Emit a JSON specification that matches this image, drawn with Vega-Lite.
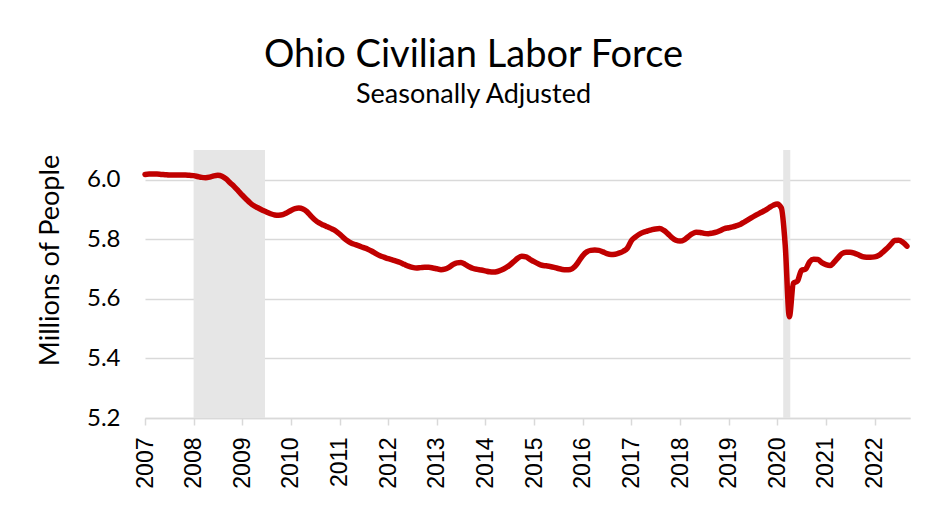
{
  "$schema": "https://vega.github.io/schema/vega-lite/v6.json",
  "width": 765,
  "height": 268,
  "autosize": {"type": "none"},
  "padding": {"left": 145, "top": 150, "right": 27, "bottom": 88},
  "background": "#ffffff",
  "title": {
    "text": "Ohio Civilian Labor Force",
    "subtitle": "Seasonally Adjusted",
    "font": "Lato",
    "fontSize": 38,
    "fontWeight": "normal",
    "color": "#000000",
    "subtitleFont": "Lato",
    "subtitleFontSize": 27,
    "subtitleColor": "#000000",
    "subtitlePadding": 7,
    "anchor": "middle",
    "dx": -54,
    "offset": 42
  },
  "config": {
    "view": {"stroke": null},
    "axis": {"titleFontWeight": "normal"},
    "axisX": {"labelFontSize": 23, "labelFont": "Liberation Sans"}
  },
  "datasets": {
    "recessions": [
      {"start": "2008-01-01", "end": "2009-06-20"},
      {"start": "2020-02-15", "end": "2020-04-08"}
    ],
    "laborforce": [
      {"date": "2007-01-01", "v": 6.018}, {"date": "2007-02-01", "v": 6.019}, {"date": "2007-03-01", "v": 6.019}, {"date": "2007-04-01", "v": 6.019},
      {"date": "2007-05-01", "v": 6.018}, {"date": "2007-06-01", "v": 6.017}, {"date": "2007-07-01", "v": 6.016}, {"date": "2007-08-01", "v": 6.016},
      {"date": "2007-09-01", "v": 6.016}, {"date": "2007-10-01", "v": 6.016}, {"date": "2007-11-01", "v": 6.016}, {"date": "2007-12-01", "v": 6.015},
      {"date": "2008-01-01", "v": 6.014}, {"date": "2008-02-01", "v": 6.011}, {"date": "2008-03-01", "v": 6.008}, {"date": "2008-04-01", "v": 6.007},
      {"date": "2008-05-01", "v": 6.009}, {"date": "2008-06-01", "v": 6.013}, {"date": "2008-07-01", "v": 6.015}, {"date": "2008-08-01", "v": 6.012},
      {"date": "2008-09-01", "v": 6.003}, {"date": "2008-10-01", "v": 5.990}, {"date": "2008-11-01", "v": 5.977}, {"date": "2008-12-01", "v": 5.963},
      {"date": "2009-01-01", "v": 5.948}, {"date": "2009-02-01", "v": 5.934}, {"date": "2009-03-01", "v": 5.922}, {"date": "2009-04-01", "v": 5.912},
      {"date": "2009-05-01", "v": 5.905}, {"date": "2009-06-01", "v": 5.898}, {"date": "2009-07-01", "v": 5.892}, {"date": "2009-08-01", "v": 5.886},
      {"date": "2009-09-01", "v": 5.882}, {"date": "2009-10-01", "v": 5.881}, {"date": "2009-11-01", "v": 5.883}, {"date": "2009-12-01", "v": 5.889},
      {"date": "2010-01-01", "v": 5.897}, {"date": "2010-02-01", "v": 5.903}, {"date": "2010-03-01", "v": 5.905}, {"date": "2010-04-01", "v": 5.902},
      {"date": "2010-05-01", "v": 5.893}, {"date": "2010-06-01", "v": 5.878}, {"date": "2010-07-01", "v": 5.865}, {"date": "2010-08-01", "v": 5.855},
      {"date": "2010-09-01", "v": 5.848}, {"date": "2010-10-01", "v": 5.842}, {"date": "2010-11-01", "v": 5.836}, {"date": "2010-12-01", "v": 5.829},
      {"date": "2011-01-01", "v": 5.818}, {"date": "2011-02-01", "v": 5.805}, {"date": "2011-03-01", "v": 5.795}, {"date": "2011-04-01", "v": 5.787},
      {"date": "2011-05-01", "v": 5.782}, {"date": "2011-06-01", "v": 5.777}, {"date": "2011-07-01", "v": 5.772}, {"date": "2011-08-01", "v": 5.767},
      {"date": "2011-09-01", "v": 5.760}, {"date": "2011-10-01", "v": 5.752}, {"date": "2011-11-01", "v": 5.745}, {"date": "2011-12-01", "v": 5.740},
      {"date": "2012-01-01", "v": 5.735}, {"date": "2012-02-01", "v": 5.731}, {"date": "2012-03-01", "v": 5.727}, {"date": "2012-04-01", "v": 5.722},
      {"date": "2012-05-01", "v": 5.716}, {"date": "2012-06-01", "v": 5.710}, {"date": "2012-07-01", "v": 5.706}, {"date": "2012-08-01", "v": 5.704},
      {"date": "2012-09-01", "v": 5.705}, {"date": "2012-10-01", "v": 5.706}, {"date": "2012-11-01", "v": 5.706}, {"date": "2012-12-01", "v": 5.704},
      {"date": "2013-01-01", "v": 5.701}, {"date": "2013-02-01", "v": 5.698}, {"date": "2013-03-01", "v": 5.700}, {"date": "2013-04-01", "v": 5.706},
      {"date": "2013-05-01", "v": 5.715}, {"date": "2013-06-01", "v": 5.721}, {"date": "2013-07-01", "v": 5.722}, {"date": "2013-08-01", "v": 5.716},
      {"date": "2013-09-01", "v": 5.708}, {"date": "2013-10-01", "v": 5.702}, {"date": "2013-11-01", "v": 5.699}, {"date": "2013-12-01", "v": 5.697},
      {"date": "2014-01-01", "v": 5.694}, {"date": "2014-02-01", "v": 5.691}, {"date": "2014-03-01", "v": 5.690}, {"date": "2014-04-01", "v": 5.692},
      {"date": "2014-05-01", "v": 5.697}, {"date": "2014-06-01", "v": 5.704}, {"date": "2014-07-01", "v": 5.713}, {"date": "2014-08-01", "v": 5.725},
      {"date": "2014-09-01", "v": 5.737}, {"date": "2014-10-01", "v": 5.743}, {"date": "2014-11-01", "v": 5.741}, {"date": "2014-12-01", "v": 5.733},
      {"date": "2015-01-01", "v": 5.725}, {"date": "2015-02-01", "v": 5.718}, {"date": "2015-03-01", "v": 5.713}, {"date": "2015-04-01", "v": 5.711},
      {"date": "2015-05-01", "v": 5.709}, {"date": "2015-06-01", "v": 5.706}, {"date": "2015-07-01", "v": 5.702}, {"date": "2015-08-01", "v": 5.699},
      {"date": "2015-09-01", "v": 5.698}, {"date": "2015-10-01", "v": 5.699}, {"date": "2015-11-01", "v": 5.708}, {"date": "2015-12-01", "v": 5.725},
      {"date": "2016-01-01", "v": 5.745}, {"date": "2016-02-01", "v": 5.758}, {"date": "2016-03-01", "v": 5.763}, {"date": "2016-04-01", "v": 5.764},
      {"date": "2016-05-01", "v": 5.763}, {"date": "2016-06-01", "v": 5.758}, {"date": "2016-07-01", "v": 5.752}, {"date": "2016-08-01", "v": 5.749},
      {"date": "2016-09-01", "v": 5.750}, {"date": "2016-10-01", "v": 5.754}, {"date": "2016-11-01", "v": 5.760}, {"date": "2016-12-01", "v": 5.770},
      {"date": "2017-01-01", "v": 5.796}, {"date": "2017-02-01", "v": 5.808}, {"date": "2017-03-01", "v": 5.817}, {"date": "2017-04-01", "v": 5.824},
      {"date": "2017-05-01", "v": 5.828}, {"date": "2017-06-01", "v": 5.832}, {"date": "2017-07-01", "v": 5.835}, {"date": "2017-08-01", "v": 5.836},
      {"date": "2017-09-01", "v": 5.830}, {"date": "2017-10-01", "v": 5.819}, {"date": "2017-11-01", "v": 5.806}, {"date": "2017-12-01", "v": 5.797},
      {"date": "2018-01-01", "v": 5.794}, {"date": "2018-02-01", "v": 5.798}, {"date": "2018-03-01", "v": 5.808}, {"date": "2018-04-01", "v": 5.818},
      {"date": "2018-05-01", "v": 5.824}, {"date": "2018-06-01", "v": 5.823}, {"date": "2018-07-01", "v": 5.820}, {"date": "2018-08-01", "v": 5.819},
      {"date": "2018-09-01", "v": 5.821}, {"date": "2018-10-01", "v": 5.824}, {"date": "2018-11-01", "v": 5.830}, {"date": "2018-12-01", "v": 5.836},
      {"date": "2019-01-01", "v": 5.839}, {"date": "2019-02-01", "v": 5.842}, {"date": "2019-03-01", "v": 5.846}, {"date": "2019-04-01", "v": 5.851},
      {"date": "2019-05-01", "v": 5.859}, {"date": "2019-06-01", "v": 5.867}, {"date": "2019-07-01", "v": 5.875}, {"date": "2019-08-01", "v": 5.883},
      {"date": "2019-09-01", "v": 5.890}, {"date": "2019-10-01", "v": 5.897}, {"date": "2019-11-01", "v": 5.906}, {"date": "2019-12-01", "v": 5.914},
      {"date": "2020-01-01", "v": 5.919}, {"date": "2020-02-01", "v": 5.905}, {"date": "2020-03-01", "v": 5.780}, {"date": "2020-04-01", "v": 5.540},
      {"date": "2020-05-01", "v": 5.652}, {"date": "2020-06-01", "v": 5.660}, {"date": "2020-07-01", "v": 5.696}, {"date": "2020-08-01", "v": 5.700},
      {"date": "2020-09-01", "v": 5.725}, {"date": "2020-10-01", "v": 5.733}, {"date": "2020-11-01", "v": 5.732}, {"date": "2020-12-01", "v": 5.722},
      {"date": "2021-01-01", "v": 5.715}, {"date": "2021-02-01", "v": 5.712}, {"date": "2021-03-01", "v": 5.722}, {"date": "2021-04-01", "v": 5.738},
      {"date": "2021-05-01", "v": 5.752}, {"date": "2021-06-01", "v": 5.757}, {"date": "2021-07-01", "v": 5.757}, {"date": "2021-08-01", "v": 5.754},
      {"date": "2021-09-01", "v": 5.748}, {"date": "2021-10-01", "v": 5.742}, {"date": "2021-11-01", "v": 5.740}, {"date": "2021-12-01", "v": 5.740},
      {"date": "2022-01-01", "v": 5.741}, {"date": "2022-02-01", "v": 5.746}, {"date": "2022-03-01", "v": 5.756}, {"date": "2022-04-01", "v": 5.768},
      {"date": "2022-05-01", "v": 5.782}, {"date": "2022-06-01", "v": 5.796}, {"date": "2022-07-01", "v": 5.797}, {"date": "2022-08-01", "v": 5.790},
      {"date": "2022-09-01", "v": 5.777}
    ]
  },
  "layer": [
    {
      "data": {"name": "recessions"},
      "mark": {"type": "rect", "color": "#e6e6e6"},
      "encoding": {
        "x": {"field": "start", "type": "temporal", "scale": {"type": "utc", "domain": ["2007-01-01", "2022-09-24"]}},
        "x2": {"field": "end"}
      }
    },
    {
      "data": {"name": "laborforce"},
      "mark": {"type": "line", "color": "#c00000", "strokeWidth": 5.5, "strokeCap": "round", "strokeJoin": "round", "interpolate": "monotone"},
      "encoding": {
        "x": {
          "field": "date", "type": "temporal",
          "scale": {"type": "utc", "domain": ["2007-01-01", "2022-09-24"]},
          "axis": {
            "title": null,
            "values": [
              {"year": 2007, "utc": true}, {"year": 2008, "utc": true}, {"year": 2009, "utc": true}, {"year": 2010, "utc": true},
              {"year": 2011, "utc": true}, {"year": 2012, "utc": true}, {"year": 2013, "utc": true}, {"year": 2014, "utc": true},
              {"year": 2015, "utc": true}, {"year": 2016, "utc": true}, {"year": 2017, "utc": true}, {"year": 2018, "utc": true},
              {"year": 2019, "utc": true}, {"year": 2020, "utc": true}, {"year": 2021, "utc": true}, {"year": 2022, "utc": true}
            ],
            "format": "%Y",
            "formatType": "utc",
            "labelAngle": -90,
            "labelFont": "Liberation Sans",
            "labelFontSize": 23,
            "labelColor": "#000000",
            "labelPadding": 12,
            "labelLimit": 0,
            "labelOverlap": false,
            "tickColor": "#d9d9d9",
            "tickSize": 7,
            "tickWidth": 1.5,
            "domainColor": "#d9d9d9",
            "domainWidth": 1.5,
            "grid": false
          }
        },
        "y": {
          "field": "v", "type": "quantitative",
          "scale": {"domain": [5.2, 6.1], "nice": false, "zero": false},
          "axis": {
            "title": "Millions of People",
            "values": [5.2, 5.4, 5.6, 5.8, 6.0],
            "format": ".1f",
            "labelFont": "Lato",
            "labelFontSize": 24,
            "labelColor": "#000000",
            "labelPadding": 25,
            "ticks": false,
            "domain": false,
            "grid": true,
            "gridColor": "#d9d9d9",
            "gridWidth": 1.5,
            "titleFont": "Lato",
            "titleFontSize": 27,
            "titleColor": "#000000",
            "titlePadding": 22,
            "titleY": 110
          }
        }
      }
    }
  ]
}
